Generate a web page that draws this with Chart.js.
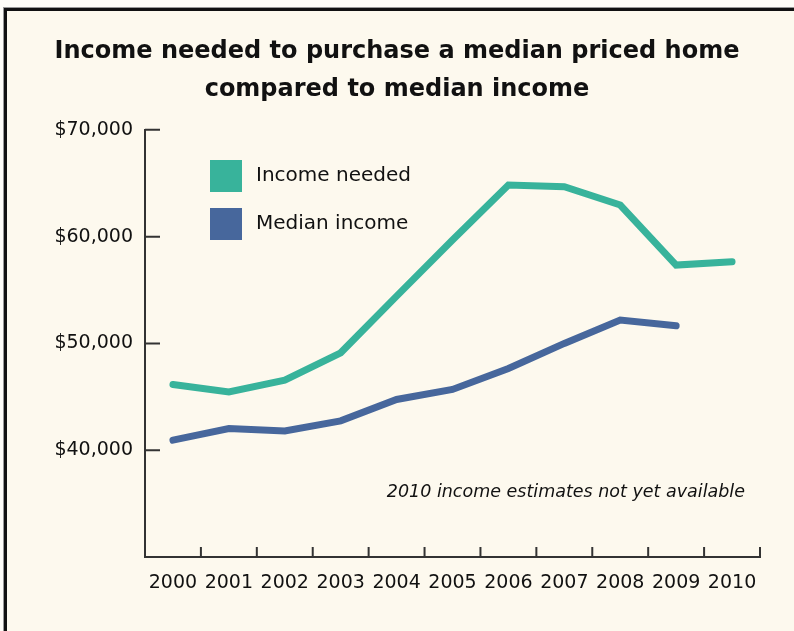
<!doctype html>
<html lang="en">
  <head>
    <meta charset="utf-8">
    <title>Income needed vs median income</title>
    <script src="https://cdn.jsdelivr.net/npm/chart.js"></script>
    <style>
      html, body { margin: 0; padding: 0; background: #fefdf8; }
      #wrap { position: relative; width: 794px; height: 631px; overflow: hidden; }
      #frame {
        position: absolute; left: 4px; top: 8px; width: 900px; height: 700px;
        border-left: 3px solid #111; border-top: 3px solid #111;
        box-shadow: -1px -1px 0 #999; background: #fdf9ee;
      }
      canvas { position: absolute; left: 0; top: 0; }
    </style>
  </head>
  <body>
    <div id="wrap">
      <div id="frame"></div>
      <canvas id="incomeChart" width="794" height="631"></canvas>
    </div>
    <script>
      // values
      const years = ['2000', '2001', '2002', '2003', '2004', '2005', '2006', '2007', '2008', '2009', '2010'];
      const incomeNeeded = [46160, 45460, 46560, 49120, 54430, 59680, 64840, 64680, 62960, 57340, 57650];
      const medianIncome = [40940, 42030, 41810, 42750, 44750, 45690, 47660, 50000, 52180, 51650];
      const yTicks = [40000, 50000, 60000, 70000];
      const titleLines = ['Income needed to purchase a median priced home', 'compared to median income'];
      const note = '2010 income estimates not yet available';

      const green = '#38b39b';
      const blue = '#47679c';
      const axisCol = '#333333';
      const fontFam = '"DejaVu Sans", sans-serif';

      // inward tick marks, the little legend and the footnote
      const extras = {
        id: 'extras',
        afterDraw(chart) {
          const ctx = chart.ctx;
          const xs = chart.scales.x, ys = chart.scales.y;
          const area = chart.chartArea;
          ctx.save();
          ctx.strokeStyle = axisCol;
          ctx.lineWidth = 2;
          ctx.beginPath();
          for (let i = 0; i < years.length; i++) {
            const px = (xs.getPixelForValue(i) + xs.getPixelForValue(i + 1)) / 2;
            ctx.moveTo(px, area.bottom);
            ctx.lineTo(px, area.bottom - 10);
          }
          yTicks.forEach(v => {
            const py = ys.getPixelForValue(v);
            ctx.moveTo(area.left, py);
            ctx.lineTo(area.left + 15, py);
          });
          ctx.stroke();

          // legend
          ctx.font = '20px ' + fontFam;
          ctx.textBaseline = 'middle';
          ctx.textAlign = 'left';
          chart.data.datasets.forEach((ds, i) => {
            const y = 160 + i * 48;
            ctx.fillStyle = ds.borderColor;
            ctx.fillRect(210, y, 32, 32);
            ctx.fillStyle = '#111';
            ctx.fillText(ds.label, 256, y + 16);
          });

          // footnote
          ctx.font = 'italic 17.5px ' + fontFam;
          ctx.textAlign = 'right';
          ctx.fillText(note, 745, 492);
          ctx.restore();
        }
      };

      new Chart(document.getElementById('incomeChart'), {
        type: 'line',
        data: {
          labels: years,
          datasets: [
            { label: 'Income needed', data: incomeNeeded, borderColor: green },
            { label: 'Median income', data: medianIncome, borderColor: blue }
          ]
        },
        options: {
          responsive: false,
          animation: false,
          layout: { padding: { left: 34, right: 34, top: 0, bottom: 0 } },
          elements: {
            line: { borderWidth: 7, borderCapStyle: 'round', tension: 0, fill: false },
            point: { radius: 0 }
          },
          scales: {
            x: {
              offset: true,
              afterFit(s) { s.height = 74; },
              grid: { drawOnChartArea: false, drawTicks: false },
              border: { color: axisCol, width: 2 },
              ticks: { color: '#111', font: { family: fontFam, size: 19 }, padding: 15, maxRotation: 0 }
            },
            y: {
              min: 30000, max: 70000,
              afterFit(s) { s.width = 111; },
              afterBuildTicks(s) { s.ticks = yTicks.map(v => ({ value: v })); },
              grid: { drawOnChartArea: false, drawTicks: false },
              border: { color: axisCol, width: 2 },
              ticks: {
                color: '#111', font: { family: fontFam, size: 19 }, padding: 12,
                callback: v => '$' + v.toLocaleString('en-US')
              }
            }
          },
          plugins: {
            legend: { display: false },
            tooltip: { enabled: false },
            title: {
              display: true,
              text: titleLines,
              color: '#111',
              font: { family: fontFam, size: 24, weight: 'bold', lineHeight: 1.58 },
              padding: { top: 33, bottom: 21 }
            }
          }
        },
        plugins: [extras]
      });
    </script>
  </body>
</html>
